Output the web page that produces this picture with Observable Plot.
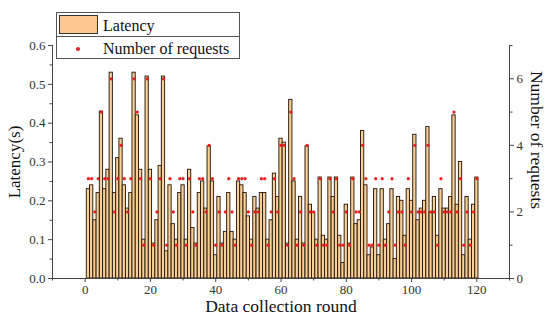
<!DOCTYPE html>
<html><head><meta charset="utf-8">
<script src="https://cdn.jsdelivr.net/npm/d3@7"></script>
<script src="https://cdn.jsdelivr.net/npm/@observablehq/plot@0.6"></script>
<style>
body{margin:0;background:#fff;}
#wrap{position:relative;width:550px;height:326px;font-family:"Liberation Serif",serif;}
#wrap svg text{font-family:"Liberation Serif",serif;}
#legend{position:absolute;left:56px;top:12px;width:184px;height:47px;border:1px solid #555;background:#fff;box-sizing:border-box;}
#legend .div{position:absolute;left:0;right:0;top:23px;border-top:1px solid #555;}
#legend .sw{position:absolute;left:2px;top:2px;width:39px;height:19px;background:#FDC792;border:1px solid #333;box-sizing:border-box;}
#legend .dot{position:absolute;left:19px;top:34px;width:4px;height:4px;border-radius:50%;background:#f01c1c;}
#legend .t{position:absolute;left:46px;font-size:16px;line-height:16px;color:#111;white-space:nowrap;}
</style>
</head><body><div id="wrap"></div>
<script>
const rounds = d3.range(1, 121);
const latency = [
 0.23,0.24,0.15,0.22,0.43,0.23,0.28,0.53,0.22,0.31,
 0.36,0.24,0.18,0.22,0.53,0.42,0.28,0.10,0.52,0.28,
 0.09,0.15,0.29,0.52,0.07,0.24,0.14,0.10,0.22,0.24,
 0.10,0.28,0.13,0.09,0.22,0.25,0.18,0.34,0.25,0.06,
 0.21,0.09,0.12,0.22,0.12,0.10,0.25,0.24,0.22,0.16,
 0.10,0.21,0.18,0.22,0.22,0.10,0.15,0.27,0.21,0.36,
 0.35,0.09,0.46,0.25,0.10,0.21,0.09,0.34,0.19,0.17,
 0.10,0.26,0.11,0.10,0.26,0.21,0.26,0.11,0.04,0.19,
 0.09,0.26,0.14,0.15,0.38,0.24,0.06,0.08,0.23,0.06,
 0.23,0.10,0.14,0.23,0.05,0.21,0.20,0.11,0.23,0.20,
 0.37,0.15,0.18,0.20,0.39,0.17,0.21,0.11,0.23,0.18,
 0.18,0.21,0.42,0.19,0.30,0.06,0.21,0.10,0.19,0.26];
const requests = [
 3,3,2,3,5,3,3,6,2,3,
 4,3,2,3,6,5,3,1,6,3,
 1,2,3,6,1,3,2,1,3,3,
 1,3,2,1,3,3,2,4,3,1,
 2,1,2,3,2,1,3,3,3,2,
 1,2,2,3,3,1,2,3,2,4,
 4,1,5,3,1,2,1,4,2,2,
 1,3,1,1,3,2,3,1,1,2,
 1,3,2,2,4,3,1,1,3,1,
 3,1,2,3,1,2,2,1,3,2,
 4,2,2,2,4,2,2,1,3,2,
 2,2,5,2,3,1,2,1,2,3];
const xTicks = [0, 20, 40, 60, 80, 100, 120];
const xMinor = [-10, 10, 30, 50, 70, 90, 110, 130];
const yTicks = [0, 0.1, 0.2, 0.3, 0.4, 0.5, 0.6];
const yMinor = [0.05, 0.15, 0.25, 0.35, 0.45, 0.55];
const reqTicks = [0, 2, 4, 6];
const reqMinor = [1, 3, 5, 7];
const reqMax = 7, latMax = 0.6;
const k = latMax / reqMax;

const data = rounds.map((r, i) => ({round: r, latency: latency[i], requests: requests[i]}));
const ff = "Liberation Serif, serif";

const chart = Plot.plot({
  width: 550, height: 326,
  marginLeft: 52, marginRight: 41, marginTop: 45, marginBottom: 48,
  style: {fontFamily: ff, fontSize: "13px", color: "#333", background: "#fff"},
  x: {domain: [-10, 130]},
  y: {domain: [0, latMax]},
  marks: [
    Plot.rectY(data, {x1: d => d.round - 0.5, x2: d => d.round + 0.5, y: "latency", fill: "#F8CF96", stroke: "#2a1c0e", strokeWidth: 0.95}),
    Plot.dot(data, {x: "round", y: d => d.requests * k, r: 1.6, fill: "#e81c1c"}),
    Plot.ruleY([0], {stroke: "#444"}),
    Plot.ruleX([-10, 130], {y1: 0, y2: latMax, stroke: "#444"}),
    Plot.axisX(xTicks, {tickSize: 4, tickPadding: 2, label: null, stroke: "#444", fontFamily: ff}),
    Plot.axisX(xMinor, {tickSize: 2.5, tickFormat: () => "", label: null, stroke: "#444"}),
    Plot.axisY(yTicks, {anchor: "left", tickSize: 4, tickPadding: 3, tickFormat: d3.format(".1f"), label: null, stroke: "#444", fontFamily: ff}),
    Plot.axisY(yMinor, {anchor: "left", tickSize: 2.5, tickFormat: () => "", label: null, stroke: "#444"}),
    Plot.axisY(reqTicks.map(r => r * k), {anchor: "right", tickSize: 4, tickPadding: 3, tickFormat: d => String(Math.round(d / k)), label: null, stroke: "#444", fontFamily: ff}),
    Plot.axisY(reqMinor.map(r => r * k), {anchor: "right", tickSize: 2.5, tickFormat: () => "", label: null, stroke: "#444"}),
    Plot.text(["Latency(s)"], {frameAnchor: "left", textAnchor: "middle", rotate: -90, dx: -38, fontSize: 17, fill: "#111", fontFamily: ff}),
    Plot.text(["Number of requests"], {frameAnchor: "right", textAnchor: "middle", rotate: 90, dx: 27, dy: -22, fontSize: 17.5, fill: "#111", fontFamily: ff}),
    Plot.text(["Data collection round"], {frameAnchor: "bottom", textAnchor: "middle", dy: 33, fontSize: 17.5, fill: "#111", fontFamily: ff})
  ]
});
const wrap = document.getElementById("wrap");
wrap.appendChild(chart);
const legend = document.createElement("div");
legend.id = "legend";
legend.innerHTML = '<div class="sw"></div><div class="t" style="top:5px">Latency</div><div class="div"></div><div class="dot"></div><div class="t" style="top:28px">Number of requests</div>';
wrap.appendChild(legend);
</script>
</body></html>
